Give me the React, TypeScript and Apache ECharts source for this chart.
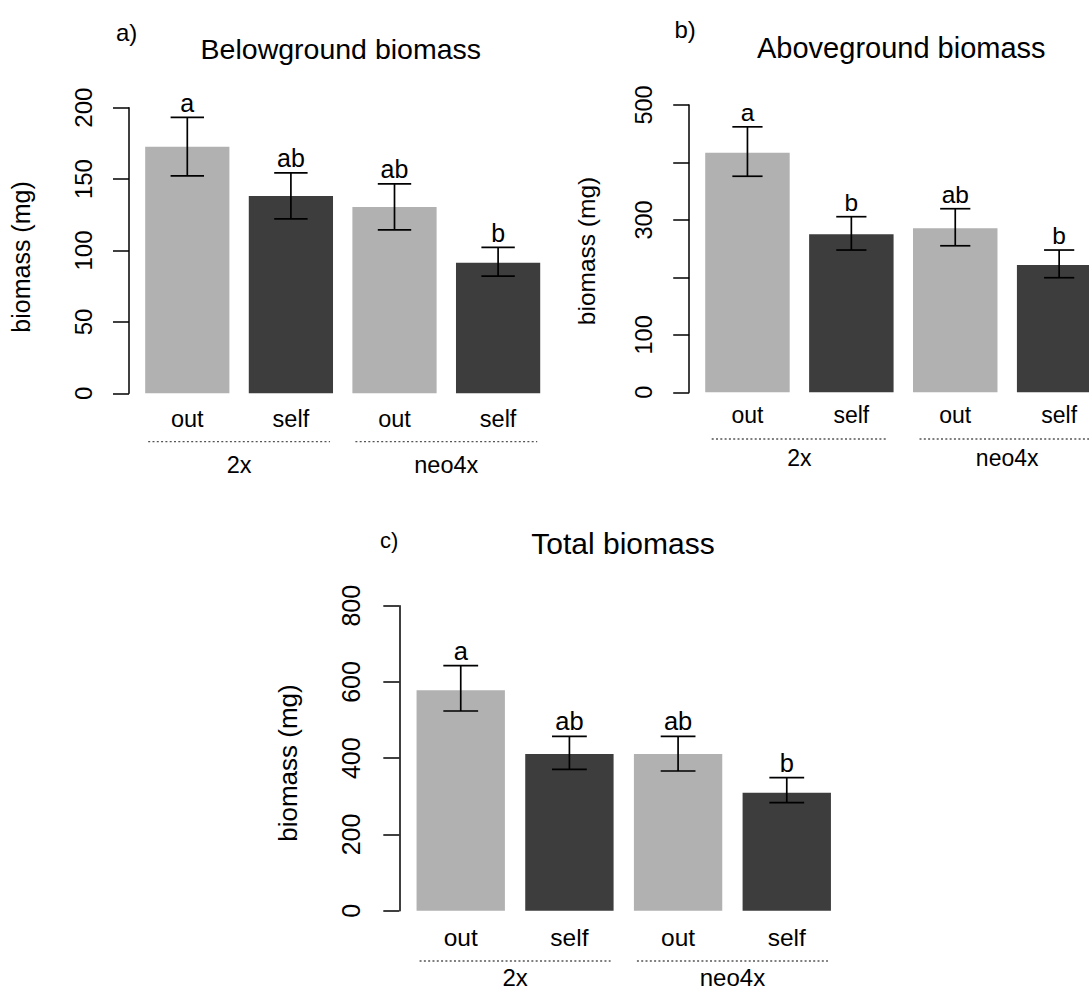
import React, { useEffect, useRef } from "react";
import * as echarts from "echarts";

// ---------- data ----------
const categories = ["out", "self", "out", "self"];
const groupNames = ["2x", "neo4x"];
const groupSpans = [
  [0, 1],
  [2, 3],
];

const belowMean = [172.6, 138.1, 130.4, 91.4];
const belowLow = [152.3, 122.2, 114.5, 82.1];
const belowHigh = [193.2, 154.4, 146.7, 102.2];
const belowLetters = ["a", "ab", "ab", "b"];
const belowTicks = { max: 200, interval: 50 };

const aboveMean = [417, 275, 285.4, 221.5];
const aboveLow = [376, 247.6, 255, 199.4];
const aboveHigh = [462, 305.6, 319.5, 247.6];
const aboveLetters = ["a", "b", "ab", "b"];
const aboveTicks = { max: 500, interval: 100 };
const aboveTickLabels = [0, 100, 300, 500];

const totalMean = [578, 411, 411, 309.5];
const totalLow = [523.8, 370.8, 366.4, 283.3];
const totalHigh = [642.6, 457.4, 457.4, 349];
const totalLetters = ["a", "ab", "ab", "b"];
const totalTicks = { max: 800, interval: 200 };

const barColors = ["#b1b1b1", "#3d3d3d", "#b1b1b1", "#3d3d3d"];

const FONT = "'Liberation Sans', Arial, Helvetica, sans-serif";

// ---------- layout ----------
const panels = [
  {
    title: "Belowground biomass",
    tag: "a)",
    mean: belowMean,
    low: belowLow,
    high: belowHigh,
    letters: belowLetters,
    ticks: belowTicks,
    tickLabels: null as number[] | null,
    grid: { left: 135.5, top: 107.7, width: 414.4, height: 285.6 },
    axisOffset: 6.5,
    tickFont: 24,
    labelMargin: 34,
    xLabelMargin: 14,
    xFont: 23.5,
    groupFont: 23.5,
    letterFont: 25,
    lineDy: 48.4,
    groupDy: 71.9,
    inset: 3,
    cap: 16.7,
    titleFont: 28.5,
    titlePos: [340.8, 49.4],
    tagPos: [116, 32],
    tagFont: 24,
    yTitlePos: [21, 257],
    yTitleFont: 25,
  },
  {
    title: "Aboveground biomass",
    tag: "b)",
    mean: aboveMean,
    low: aboveLow,
    high: aboveHigh,
    letters: aboveLetters,
    ticks: aboveTicks,
    tickLabels: aboveTickLabels,
    grid: { left: 695.5, top: 105, width: 415.6, height: 287.3 },
    axisOffset: 6.3,
    tickFont: 23.5,
    labelMargin: 33,
    xLabelMargin: 11,
    xFont: 23,
    groupFont: 23,
    letterFont: 24.5,
    lineDy: 46.7,
    groupDy: 65.7,
    inset: 6.5,
    cap: 15.1,
    titleFont: 29,
    titlePos: [901.3, 48.2],
    tagPos: [674.4, 29],
    tagFont: 24,
    yTitlePos: [586.1, 251],
    yTitleFont: 24.5,
  },
  {
    title: "Total biomass",
    tag: "c)",
    mean: totalMean,
    low: totalLow,
    high: totalHigh,
    letters: totalLetters,
    ticks: totalTicks,
    tickLabels: null as number[] | null,
    grid: { left: 406.4, top: 605.7, width: 434.7, height: 305 },
    axisOffset: 7.1,
    tickFont: 25,
    labelMargin: 35.5,
    xLabelMargin: 14.5,
    xFont: 24.5,
    groupFont: 24,
    letterFont: 25.5,
    lineDy: 50.3,
    groupDy: 67,
    inset: 3,
    cap: 17.4,
    titleFont: 30,
    titlePos: [623, 543.9],
    tagPos: [380, 540],
    tagFont: 22,
    yTitlePos: [288.3, 763],
    yTitleFont: 26,
  },
];

const BAR_FRAC = 0.813;

function makeErrorRender(letters: string[], capHalf: number, font: number) {
  return (params: any, api: any) => {
    const i = api.value(0);
    const lo = api.coord([i, api.value(1)]);
    const hi = api.coord([i, api.value(2)]);
    const x = lo[0];
    const style = { stroke: "#000", lineWidth: 1.7 };
    return {
      type: "group",
      children: [
        { type: "line", shape: { x1: x, y1: lo[1], x2: x, y2: hi[1] }, style },
        { type: "line", shape: { x1: x - capHalf, y1: hi[1], x2: x + capHalf, y2: hi[1] }, style },
        { type: "line", shape: { x1: x - capHalf, y1: lo[1], x2: x + capHalf, y2: lo[1] }, style },
        {
          type: "text",
          x,
          y: hi[1] - 2,
          style: {
            text: letters[params.dataIndex],
            align: "center",
            verticalAlign: "bottom",
            fontSize: font,
            fontFamily: FONT,
            fill: "#000",
          },
        },
      ],
    };
  };
}

function makeGroupRender(lineDy: number, groupDy: number, inset: number, font: number) {
  return (params: any, api: any) => {
    const s = api.value(0);
    const e = api.value(1);
    const p0 = api.coord([s, 0]);
    const p1 = api.coord([e, 0]);
    const band = api.size([1, 0])[0];
    const half = (band * BAR_FRAC) / 2;
    const y = p0[1] + lineDy;
    return {
      type: "group",
      children: [
        {
          type: "line",
          shape: { x1: p0[0] - half + inset, y1: y, x2: p1[0] + half - inset, y2: y },
          style: { stroke: "#555", lineWidth: 1.3, lineDash: [2, 2.3] },
        },
        {
          type: "text",
          x: (p0[0] + p1[0]) / 2,
          y: p0[1] + groupDy,
          style: {
            text: groupNames[params.dataIndex],
            align: "center",
            verticalAlign: "middle",
            fontSize: font,
            fontFamily: FONT,
            fill: "#000",
          },
        },
      ],
    };
  };
}

export default function App() {
  const ref = useRef<HTMLDivElement>(null);

  useEffect(() => {
    document.body.style.margin = "0";
    if (!ref.current) return;
    const chart = echarts.init(ref.current, null, { renderer: "svg" });

    const grids: any[] = [];
    const xAxes: any[] = [];
    const yAxes: any[] = [];
    const series: any[] = [];
    const graphics: any[] = [];

    panels.forEach((p, k) => {
      grids.push({ ...p.grid, containLabel: false, outerBoundsMode: "none" });
      xAxes.push({
        type: "category",
        gridIndex: k,
        data: categories,
        boundaryGap: true,
        axisLine: { show: false },
        axisTick: { show: false },
        axisLabel: {
          interval: 0,
          margin: p.xLabelMargin,
          fontSize: p.xFont,
          color: "#000",
          fontFamily: FONT,
        },
        splitLine: { show: false },
      });
      const tl = p.tickLabels;
      yAxes.push({
        type: "value",
        gridIndex: k,
        min: 0,
        max: p.ticks.max,
        interval: p.ticks.interval,
        offset: p.axisOffset,
        axisLine: { show: true, lineStyle: { color: "#000", width: 1.5 } },
        axisTick: { show: true, length: 16, lineStyle: { color: "#000", width: 1.5 } },
        axisLabel: {
          rotate: 90,
          margin: p.labelMargin,
          fontSize: p.tickFont,
          color: "#000",
          fontFamily: FONT,
          formatter: (v: number) => (tl && tl.indexOf(v) < 0 ? "" : String(v)),
        },
        splitLine: { show: false },
      });
      series.push({
        type: "bar",
        xAxisIndex: k,
        yAxisIndex: k,
        data: p.mean,
        barWidth: BAR_FRAC * 100 + "%",
        itemStyle: { color: (q: any) => barColors[q.dataIndex] },
        silent: true,
      });
      series.push({
        type: "custom",
        xAxisIndex: k,
        yAxisIndex: k,
        z: 5,
        clip: false,
        encode: { x: 0, y: [1, 2] },
        data: p.mean.map((_, i) => [i, p.low[i], p.high[i]]),
        renderItem: makeErrorRender(p.letters, p.cap, p.letterFont),
        silent: true,
      });
      series.push({
        type: "custom",
        xAxisIndex: k,
        yAxisIndex: k,
        z: 5,
        clip: false,
        encode: { x: [0, 1], y: 2 },
        data: groupSpans.map((g) => [g[0], g[1], 0]),
        renderItem: makeGroupRender(p.lineDy, p.groupDy, p.inset, p.groupFont),
        silent: true,
      });
      graphics.push({
        type: "text",
        x: p.titlePos[0],
        y: p.titlePos[1],
        style: {
          text: p.title,
          align: "center",
          verticalAlign: "middle",
          fontSize: p.titleFont,
          fontFamily: FONT,
          fill: "#000",
        },
      });
      graphics.push({
        type: "text",
        x: p.tagPos[0],
        y: p.tagPos[1],
        style: {
          text: p.tag,
          align: "left",
          verticalAlign: "middle",
          fontSize: p.tagFont,
          fontFamily: FONT,
          fill: "#000",
        },
      });
      graphics.push({
        type: "text",
        x: p.yTitlePos[0],
        y: p.yTitlePos[1],
        rotation: Math.PI / 2,
        style: {
          text: "biomass (mg)",
          align: "center",
          verticalAlign: "middle",
          fontSize: p.yTitleFont,
          fontFamily: FONT,
          fill: "#000",
        },
      });
    });

    chart.setOption({
      animation: false,
      backgroundColor: "#ffffff",
      grid: grids,
      xAxis: xAxes,
      yAxis: yAxes,
      series,
      graphic: graphics,
    });

    return () => chart.dispose();
  }, []);

  return <div ref={ref} style={{ width: 1089, height: 990 }} />;
}
